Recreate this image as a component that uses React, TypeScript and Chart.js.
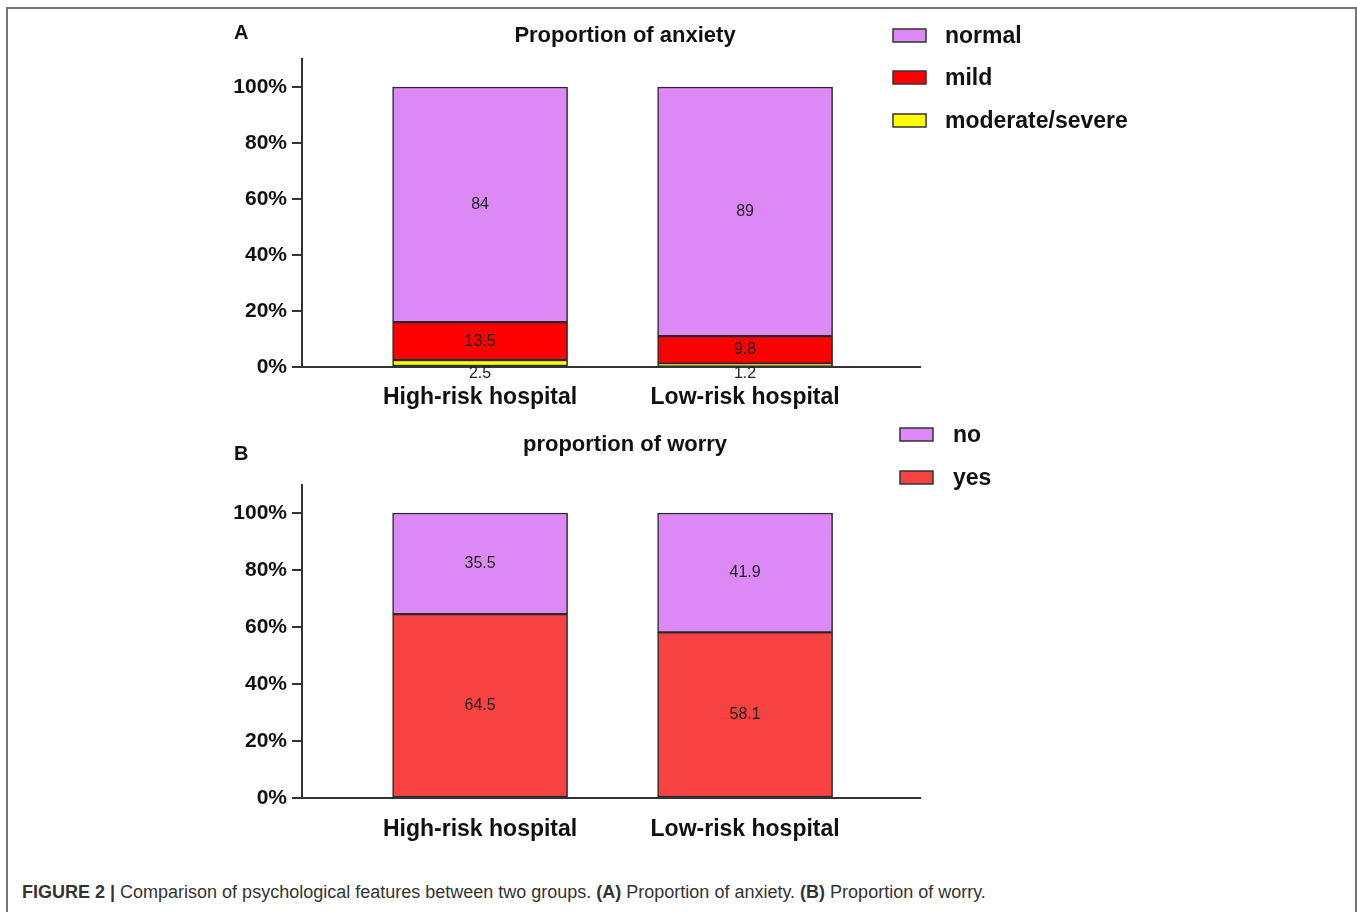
import React, { useEffect, useRef } from 'react';
import { Chart, registerables } from 'chart.js';

Chart.register(...registerables);

// ---- data ----
const categories = ['High-risk hospital', 'Low-risk hospital'];
const anxietyModerateSevere = [2.5, 1.2];
const anxietyMild = [13.5, 9.8];
const anxietyNormal = [84, 89];
const worryYes = [64.5, 58.1];
const worryNo = [35.5, 41.9];
const yTickValues = [0, 20, 40, 60, 80, 100];

const FONT = '"Liberation Sans", Arial, Helvetica, sans-serif';
const PURPLE = '#DC88F5';
const RED = '#FF0000';
const YELLOW = '#FFFF00';
const RED_B = '#F84141';
const EDGE = '#2a2a2a';

const toPoints = (vals: number[]) => vals.map((v, i) => ({ x: i + 1, y: v }));

const decorPlugin = {
  id: 'decor',
  afterDraw(chart: any, _args: any, opts: any) {
    const ctx = chart.ctx;
    ctx.save();
    ctx.fillStyle = '#111';
    ctx.font = `bold 20px ${FONT}`;
    ctx.textAlign = 'left';
    ctx.textBaseline = 'middle';
    ctx.fillText(opts.letter, opts.letterX, opts.letterY);
    ctx.font = `bold 22px ${FONT}`;
    ctx.textAlign = 'center';
    ctx.fillText(opts.title, opts.titleX, opts.titleY);
    const ds = chart.data.datasets.slice().reverse();
    ds.forEach((d: any, k: number) => {
      const cy = opts.legendYs[k];
      ctx.fillStyle = d.backgroundColor;
      ctx.fillRect(opts.boxX, cy - 6.5, 33, 13);
      ctx.strokeStyle = '#333';
      ctx.lineWidth = 1.5;
      ctx.strokeRect(opts.boxX, cy - 6.5, 33, 13);
      ctx.fillStyle = '#111';
      ctx.font = `bold 23px ${FONT}`;
      ctx.textAlign = 'left';
      ctx.textBaseline = 'middle';
      ctx.fillText(d.label, opts.textX, cy + 1);
    });
    ctx.restore();
  },
};

const valueLabelPlugin = {
  id: 'valueLabels',
  afterDatasetsDraw(chart: any) {
    const ctx = chart.ctx;
    ctx.save();
    ctx.font = `16px ${FONT}`;
    ctx.fillStyle = '#222';
    ctx.textAlign = 'center';
    ctx.textBaseline = 'middle';
    chart.data.datasets.forEach((ds: any, di: number) => {
      const meta = chart.getDatasetMeta(di);
      meta.data.forEach((el: any, i: number) => {
        const v = ds.data[i].y;
        const { x, y, base } = el.getProps(['x', 'y', 'base'], true);
        const cy = Math.abs(base - y) < 12 ? base + 8 : (y + base) / 2;
        ctx.fillText(String(v), x, cy);
      });
    });
    ctx.restore();
  },
};

function makeConfig(datasets: any[], padding: any, decor: any, xPad: number) {
  return {
    type: 'bar',
    data: { datasets },
    plugins: [valueLabelPlugin, decorPlugin],
    options: {
      animation: false,
      responsive: false,
      devicePixelRatio: 1,
      layout: { padding },
      plugins: {
        legend: { display: false },
        tooltip: { enabled: false },
        title: { display: false },
        decor,
      },
      scales: {
        x: {
          type: 'linear',
          stacked: true,
          min: 0.328,
          max: 2.66,
          offset: false,
          grid: { display: false, drawTicks: false },
          border: { display: true, color: '#333', width: 2 },
          afterBuildTicks: (s: any) => {
            s.ticks = categories.map((_, i) => ({ value: i + 1 }));
          },
          afterFit: (s: any) => {
            s.height = 45;
          },
          ticks: {
            autoSkip: false,
            maxRotation: 0,
            padding: xPad,
            color: '#111',
            font: { family: FONT, size: 23, weight: 'bold' },
            callback: (v: number) => categories[Math.round(v) - 1] ?? '',
          },
        },
        y: {
          type: 'linear',
          stacked: true,
          min: 0,
          max: 110,
          grid: {
            display: true,
            drawOnChartArea: false,
            drawTicks: true,
            tickLength: 10,
            color: '#333',
            lineWidth: 2,
          },
          border: { display: true, color: '#333', width: 2 },
          afterBuildTicks: (s: any) => {
            s.ticks = yTickValues.map((v) => ({ value: v }));
          },
          afterFit: (s: any) => {
            s.width = 100;
          },
          ticks: {
            padding: 5,
            color: '#111',
            font: { family: FONT, size: 21, weight: 'bold' },
            callback: (v: number) => `${v}%`,
          },
        },
      },
    },
  };
}

function barDs(label: string, vals: number[], color: string) {
  return {
    label,
    data: toPoints(vals),
    backgroundColor: color,
    borderColor: EDGE,
    borderWidth: 1.5,
    borderSkipped: false,
    barThickness: 175,
  };
}

function ChartCanvas({ config, width, height, style }: any) {
  const ref = useRef<HTMLCanvasElement>(null);
  useEffect(() => {
    const chart = new Chart(ref.current as HTMLCanvasElement, config);
    return () => chart.destroy();
  }, []);
  return <canvas ref={ref} width={width} height={height} style={{ position: 'absolute', width, height, ...style }} />;
}

export default function App() {
  const configA = makeConfig(
    [
      barDs('moderate/severe', anxietyModerateSevere, YELLOW),
      barDs('mild', anxietyMild, RED),
      barDs('normal', anxietyNormal, PURPLE),
    ],
    { left: 202, right: 437, top: 59, bottom: 8 },
    {
      letter: 'A', letterX: 234, letterY: 33,
      title: 'Proportion of anxiety', titleX: 625, titleY: 36,
      boxX: 893, textX: 945, legendYs: [35.5, 77.5, 120.5],
    },
    17
  );
  const configB = makeConfig(
    [barDs('yes', worryYes, RED_B), barDs('no', worryNo, PURPLE)],
    { left: 202, right: 437, top: 74.5, bottom: 7 },
    {
      letter: 'B', letterX: 234, letterY: 44,
      title: 'proportion of worry', titleX: 625, titleY: 35,
      boxX: 900, textX: 953, legendYs: [24.5, 67.5],
    },
    18
  );
  return (
    <div style={{ position: 'fixed', left: 0, top: 0, width: 1357, height: 912, background: '#fff', overflow: 'hidden' }}>
      <div style={{ position: 'absolute', left: 6, top: 7, width: 1347, height: 920, border: '2px solid #777' }} />
      <ChartCanvas config={configA} width={1357} height={420} style={{ left: 0, top: 0 }} />
      <ChartCanvas config={configB} width={1357} height={440} style={{ left: 0, top: 410 }} />
      <div
        style={{
          position: 'absolute', left: 22, top: 881, fontFamily: FONT, fontSize: 18,
          color: '#333', whiteSpace: 'nowrap', lineHeight: '22px',
        }}
      >
        <b>FIGURE 2 |</b> Comparison of psychological features between two groups. <b>(A)</b> Proportion of anxiety.{' '}
        <b>(B)</b> Proportion of worry.
      </div>
    </div>
  );
}
